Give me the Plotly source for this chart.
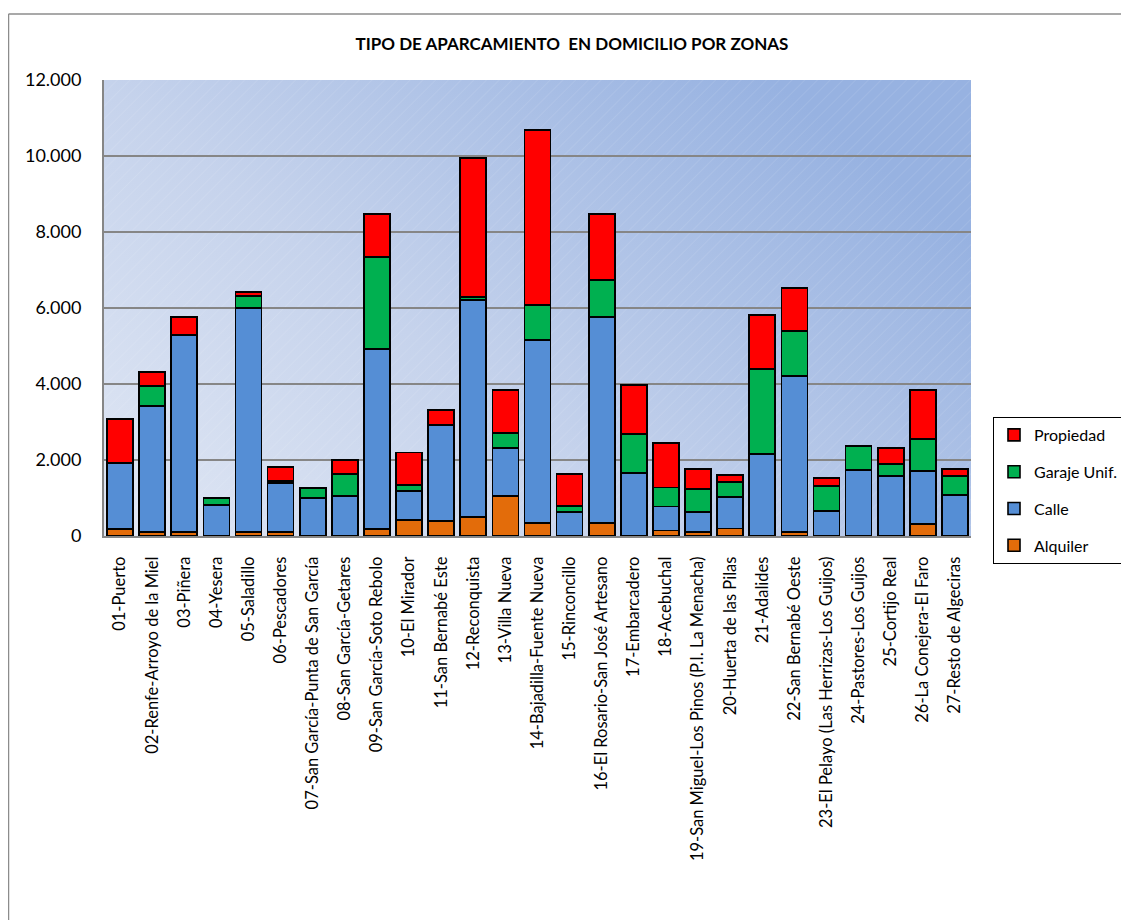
import base64
import plotly.graph_objects as go

zonas = [
    "01-Puerto", "02-Renfe-Arroyo de la Miel", "03-Piñera", "04-Yesera", "05-Saladillo",
    "06-Pescadores", "07-San García-Punta de San García", "08-San García-Getares",
    "09-San García-Soto Rebolo", "10-El Mirador", "11-San Bernabé Este", "12-Reconquista",
    "13-Villa Nueva", "14-Bajadilla-Fuente Nueva", "15-Rinconcillo",
    "16-El Rosario-San José Artesano", "17-Embarcadero", "18-Acebuchal",
    "19-San Miguel-Los Pinos (P.I. La Menacha)", "20-Huerta de las Pilas", "21-Adalides",
    "22-San Bernabé Oeste", "23-El Pelayo (Las Herrizas-Los Guijos)", "24-Pastores-Los Guijos",
    "25-Cortijo Real", "26-La Conejera-El Faro", "27-Resto de Algeciras",
]

alquiler = [180, 100, 100, 0, 100, 100, 0, 0, 180, 420, 390, 500, 1050, 340, 0,
            340, 0, 150, 100, 200, 0, 100, 0, 0, 0, 310, 0]
calle = [1740, 3320, 5190, 816, 5900, 1290, 1000, 1050, 4740, 760, 2530, 5710, 1260, 4820, 630,
         5420, 1660, 630, 530, 820, 2160, 4110, 660, 1740, 1580, 1400, 1080]
garaje = [0, 530, 0, 180, 320, 60, 270, 580, 2420, 160, 0, 80, 400, 920, 160,
          970, 1030, 500, 600, 400, 2240, 1180, 660, 630, 320, 840, 500]
propiedad = [1160, 370, 470, 0, 100, 360, 0, 370, 1130, 860, 400, 3660, 1130, 4600, 840,
             1740, 1290, 1160, 530, 180, 1420, 1130, 210, 0, 420, 1290, 180]

series = [
    ("Alquiler", alquiler, "#E36C0A", 4),
    ("Calle", calle, "#558ED5", 3),
    ("Garaje Unif.", garaje, "#00B050", 2),
    ("Propiedad", propiedad, "#FF0000", 1),
]

FONT = "Lato"

fig = go.Figure()
for name, vals, col, rank in series:
    fig.add_trace(go.Bar(
        x=zonas, y=vals, name=name, legendgroup=name, legendrank=rank,
        marker=dict(color=col, line=dict(color="black", width=1.6)),
    ))

# gradient + hatch background for the plot area
svg = """<svg xmlns='http://www.w3.org/2000/svg' width='867' height='456' viewBox='0 0 867 456' preserveAspectRatio='none'>
<defs>
<linearGradient id='g' x1='0' y1='1' x2='1' y2='0.35'>
<stop offset='0' stop-color='#e0e7f4'/>
<stop offset='0.45' stop-color='#c6d3ec'/>
<stop offset='1' stop-color='#97b2e1'/>
</linearGradient>
<pattern id='p' width='9' height='9' patternUnits='userSpaceOnUse' patternTransform='rotate(45)'>
<line x1='0' y1='0' x2='0' y2='9' stroke='white' stroke-opacity='0.18' stroke-width='1'/>
</pattern>
</defs>
<rect width='867' height='456' fill='url(#g)'/>
<rect width='867' height='456' fill='url(#p)'/>
</svg>"""
src = "data:image/svg+xml;base64," + base64.b64encode(svg.encode()).decode()

OFF = 8  # page body margin in the browser
W, H = 1129 - OFF, 920 - OFF
L, R, T, B = 104 - OFF, 971 - OFF, 80 - OFF, 536 - OFF
pw, ph = R - L, B - T

def px(xp):
    return (xp - OFF - L) / pw

def py(yp):
    return (B - (yp - OFF)) / ph

fig.update_layout(
    width=W, height=H,
    margin=dict(l=L, r=W - R, t=T, b=H - B, autoexpand=False),
    barmode="stack", bargap=0.19,
    separators=",.",
    paper_bgcolor="white",
    plot_bgcolor="#c3d1ec",
    font=dict(family=FONT, size=16, color="black"),
    title=dict(
        text="<b>TIPO DE APARCAMIENTO  EN DOMICILIO POR ZONAS</b>",
        x=(572 - OFF) / W, xref="container", xanchor="center",
        y=1 - (44 - OFF) / H, yref="container", yanchor="middle",
        font=dict(family=FONT, size=17, color="black"),
    ),
    legend=dict(
        x=px(993), y=py(417), xanchor="left", yanchor="top",
        traceorder="grouped", tracegroupgap=13,
        bordercolor="black", borderwidth=1, bgcolor="white",
        font=dict(family=FONT, size=16),
        itemwidth=30,
    ),
    images=[dict(source=src, xref="paper", yref="paper", x=0, y=1, sizex=1, sizey=1,
                 sizing="stretch", layer="below", xanchor="left", yanchor="top")],
    shapes=[
        dict(type="line", xref="paper", yref="paper", x0=px(8.5), x1=px(8.5), y0=py(930), y1=py(14),
             line=dict(color="#8c8c8c", width=1.5)),
        dict(type="line", xref="paper", yref="paper", x0=px(8.5), x1=px(1140), y0=py(14), y1=py(14),
             line=dict(color="#8c8c8c", width=1.5)),
    ],
)

fig.update_yaxes(
    range=[0, 12000], tickvals=[0, 2000, 4000, 6000, 8000, 10000, 12000],
    tickformat=",d", showgrid=True, gridcolor="#868686", gridwidth=2,
    zeroline=False, showline=True, linecolor="#868686", linewidth=2,
    ticks="", ticklabelstandoff=17,
    tickfont=dict(family=FONT, size=18, color="black"),
)
fig.update_xaxes(
    tickangle=-90, showline=True, linecolor="#868686", linewidth=2,
    ticks="", ticklabelstandoff=12, showgrid=False,
    tickfont=dict(family=FONT, size=16.5, color="black"),
)

fig.write_html("out.html")
